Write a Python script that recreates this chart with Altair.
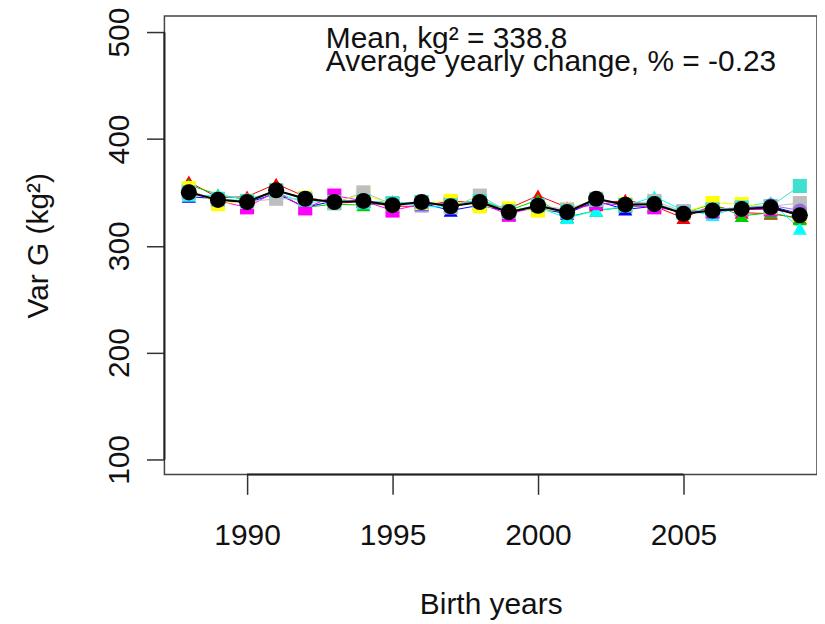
import altair as alt
import pandas as pd

years = list(range(1988, 2010))

series_names = ["red", "green", "blue", "cyan", "magenta", "yellow", "gray", "turquoise", "purple"]
series_colors = ["#FF0000", "#00CD00", "#0000FF", "#00FFFF", "#FF00FF", "#FFFF00", "#BEBEBE", "#40E0D0", "#9370DB"]
series_shapes = ["triangle-up", "triangle-up", "triangle-up", "triangle-up", "square", "square", "square", "square", "circle"]

red = [360, 345, 346, 358, 346, 340, 341, 337, 337, 342, 340, 335, 347, 336, 338, 343, 337, 326, 338, 331, 330, 326]
green = [357, 348, 343, 350, 336, 339, 338, 340, 339, 338, 343, 333, 343, 327, 333, 336, 338, 331, 339, 328, 331, 325]
blue = [346, 344, 340, 349, 336, 342, 341, 339, 340, 333, 338, 332, 335, 330, 342, 334, 337, 332, 334, 335, 337, 330]
cyan = [347, 347, 344, 350, 340, 343, 340, 342, 337, 336, 344, 333, 336, 326, 333, 337, 346, 333, 329, 336, 341, 316]
magenta = [352, 342, 336, 351, 335, 347, 342, 333, 339, 340, 340, 329, 338, 332, 340, 338, 336, 332, 332, 334, 334, 330]
yellow = [354, 339, 342, 352, 345, 341, 348, 339, 340, 342, 337, 335, 333, 334, 343, 339, 340, 331, 340, 339, 336, 329]
gray = [349, 343, 341, 344, 344, 340, 350, 339, 341, 336, 347, 332, 338, 334, 344, 338, 342, 332, 334, 335, 337, 340]
turquoise = [350, 344, 342, 352, 343, 341, 342, 340, 341, 338, 342, 332, 338, 332, 343, 338, 340, 331, 334, 336, 337, 356]
purple = [351, 343, 341, 352, 344, 341, 342, 338, 341, 337, 341, 331, 337, 332, 344, 339, 339, 330, 333, 335, 338, 333]

mean_values = [350, 343, 341, 352, 344, 341, 342, 338, 341, 337, 341, 331.5, 337.5, 331.5, 344, 338.5, 339, 330, 333, 334.5, 336, 328.5]

x_ticks = [1990, 1995, 2000, 2005]
y_ticks = [100, 200, 300, 400, 500]

line1 = "Mean, kg\u00b2 = 338.8"
line2 = "Average yearly change, % = -0.23"

FONT = "Liberation Sans"
FS = 30

rows = []
for name, vals in zip(series_names, [red, green, blue, cyan, magenta, yellow, gray, turquoise, purple]):
    for yr, v in zip(years, vals):
        rows.append({"year": yr, "value": v, "series": name})
df = pd.DataFrame(rows)
df_mean = pd.DataFrame({"year": years, "value": mean_values})

xscale = alt.Scale(domain=[1987.16, 2009.59], nice=False, zero=False)
yscale = alt.Scale(domain=[86, 515], nice=False, zero=False)

xaxis = alt.Axis(values=x_ticks, format="d", title="Birth years", grid=False, domain=False,
                 tickSize=20, tickColor="#333", tickWidth=1.5, labelFontSize=FS, labelFont=FONT,
                 labelColor="#111", labelPadding=41, labelBaseline="middle",
                 titleFontSize=FS, titleFont=FONT, titleFontWeight="normal", titleColor="#111",
                 titleY=131, titleBaseline="middle", labelFlush=False)
yaxis = alt.Axis(values=y_ticks, title="Var G (kg\u00b2)", grid=False, domain=False,
                 tickSize=18, tickColor="#333", tickWidth=1.5, labelFontSize=FS, labelFont=FONT,
                 labelColor="#111", labelAngle=270, labelAlign="center", labelBaseline="middle",
                 labelPadding=27, titleFontSize=FS, titleFont=FONT, titleFontWeight="normal",
                 titleColor="#111", titleX=-126, titleY=230, titleAlign="center",
                 titleBaseline="middle", titleAngle=270, labelFlush=False)

color = alt.Color("series:N", scale=alt.Scale(domain=series_names, range=series_colors), legend=None)
shape = alt.Shape("series:N", scale=alt.Scale(domain=series_names, range=series_shapes), legend=None)

base = alt.Chart(df).encode(
    x=alt.X("year:Q", scale=xscale, axis=xaxis),
    y=alt.Y("value:Q", scale=yscale, axis=yaxis),
)
lines = base.mark_line(strokeWidth=1).encode(color=color, detail="series:N")
points = base.mark_point(filled=True, opacity=1, size=200).encode(color=color, shape=shape)

mbase = alt.Chart(df_mean).encode(x=alt.X("year:Q", scale=xscale), y=alt.Y("value:Q", scale=yscale))
mline = mbase.mark_line(color="black", strokeWidth=2)
mpts = mbase.mark_point(filled=True, opacity=1, color="black", shape="circle", size=260)

one = pd.DataFrame({"a": [0]})
xrule = alt.Chart(one).mark_rule(color="#222", strokeWidth=2).encode(
    x=alt.datum(x_ticks[0]), x2=alt.datum(x_ticks[-1]), y=alt.value(460))
yrule = alt.Chart(one).mark_rule(color="#222", strokeWidth=2).encode(
    y=alt.datum(y_ticks[0]), y2=alt.datum(y_ticks[-1]), x=alt.value(0))

t1 = alt.Chart(one).mark_text(text=line1, font=FONT, fontSize=FS, align="left", baseline="alphabetic",
                              color="#111").encode(x=alt.value(162), y=alt.value(32))
t2 = alt.Chart(one).mark_text(text=line2, font=FONT, fontSize=FS, align="left", baseline="alphabetic",
                              color="#111").encode(x=alt.value(162), y=alt.value(55))

chart = alt.layer(lines, points, mline, mpts, xrule, yrule, t1, t2).properties(
    width=655, height=460,
    autosize=alt.AutoSizeParams(type="none"),
    padding={"left": 157, "top": 7, "right": 0, "bottom": 145},
).configure_view(stroke="#444", strokeWidth=1.5)

chart.save("out.html", embed_options={"renderer": "svg", "actions": False})
